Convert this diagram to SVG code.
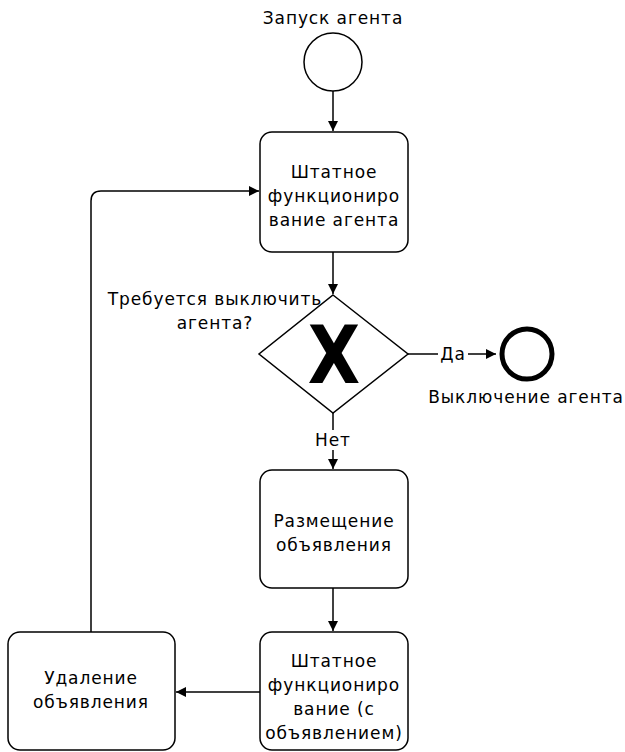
<svg xmlns="http://www.w3.org/2000/svg" width="625" height="752" viewBox="0 0 625 752">
<style>
text{font-family:"DejaVu Sans",Verdana,sans-serif;font-size:17px;letter-spacing:0.9px;fill:#000;text-anchor:middle}
.task{fill:#fff;stroke:#000;stroke-width:1.5}
.edge{fill:none;stroke:#000;stroke-width:1.5}
</style>
<defs>
<marker id="arr" viewBox="0 0 10 10" refX="10" refY="5" markerWidth="10" markerHeight="10" markerUnits="userSpaceOnUse" orient="auto">
<path d="M0,0 L10,5 L0,10 z" fill="#000"/>
</marker>
</defs>
<rect width="625" height="752" fill="#fff"/>
<g id="connectors">
<path class="edge" d="M333,91 V131" marker-end="url(#arr)"/>
<path class="edge" d="M333,252 V294" marker-end="url(#arr)"/>
<path class="edge" d="M408,354 H496" marker-end="url(#arr)"/>
<rect x="438" y="343" width="30" height="22" fill="#fff"/>
<text x="453" y="360">Да</text>
<path class="edge" d="M333,413 V469" marker-end="url(#arr)"/>
<rect x="313" y="430" width="40" height="20" fill="#fff"/>
<text x="333" y="446">Нет</text>
<path class="edge" d="M333,588 V631" marker-end="url(#arr)"/>
<path class="edge" d="M260,692 H176" marker-end="url(#arr)"/>
<path class="edge" d="M91,632 V201 Q91,191 101,191 H259" marker-end="url(#arr)"/>
</g>
<g id="start">
<circle cx="333" cy="62" r="29" fill="#fff" stroke="#000" stroke-width="1.5"/>
<text x="333" y="24">Запуск агента</text>
</g>
<g id="task1">
<rect class="task" x="260" y="132" width="148" height="120" rx="12"/>
<text x="334" y="178">Штатное</text>
<text x="334" y="202">функциониро</text>
<text x="334" y="226">вание агента</text>
</g>
<g id="gateway">
<polygon points="333,295 408,354 333,413 259,354" fill="#fff" stroke="#000" stroke-width="1.5"/>
<text x="0" y="0" transform="translate(334,383) scale(0.85,1)" style="font-size:80px;font-weight:bold;letter-spacing:0">X</text>
<text x="215" y="305">Требуется выключить</text>
<text x="215" y="329">агента?</text>
</g>
<g id="end">
<circle cx="527" cy="354" r="25" fill="#fff" stroke="#000" stroke-width="5"/>
<text x="526" y="403">Выключение агента</text>
</g>
<g id="task2">
<rect class="task" x="260" y="470" width="148" height="118" rx="12"/>
<text x="334" y="527">Размещение</text>
<text x="334" y="551">объявления</text>
</g>
<g id="task3">
<rect class="task" x="260" y="632" width="148" height="118" rx="12"/>
<text x="334" y="667">Штатное</text>
<text x="334" y="691">функциониро</text>
<text x="334" y="715">вание (с</text>
<text x="334" y="739">объявлением)</text>
</g>
<g id="task4">
<rect class="task" x="8" y="632" width="167" height="118" rx="12"/>
<text x="91" y="684">Удаление</text>
<text x="91" y="708">объявления</text>
</g>
</svg>
